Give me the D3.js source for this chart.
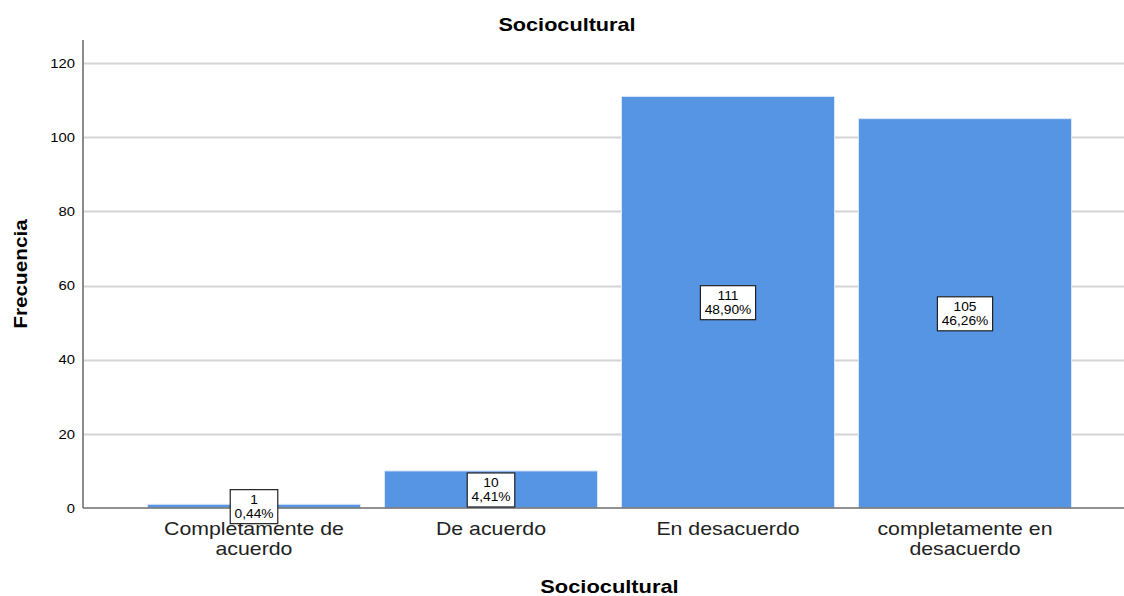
<!DOCTYPE html>
<html>
  <head>
    <meta charset="utf-8">
    <title>Sociocultural</title>
    <script src="https://d3js.org/d3.v7.min.js"></script>
    <style>
      body { margin: 0; background: #fff; font-family: Arial, "Liberation Sans", sans-serif; }
      svg text { fill: #000; font-family: Arial, "Liberation Sans", sans-serif; }
    </style>
  </head>
  <body>
    <svg id="chart" width="1124" height="596"></svg>
    <script>
      // data
      const categories = [["Completamente de", "acuerdo"], ["De acuerdo"], ["En desacuerdo"], ["completamente en", "desacuerdo"]];
      const counts = [1, 10, 111, 105];
      const percents = ["0,44%", "4,41%", "48,90%", "46,26%"];
      const yTicks = [0, 20, 40, 60, 80, 100, 120];

      const svg = d3.select("#chart");
      const plotLeft = 83, plotRight = 1124, plotTop = 40, plotBottom = 508;

      // the original renderer draws its text a bit wider than Liberation Sans
      function widen(sel, k) {
        sel.each(function() {
          const w = this.getComputedTextLength();
          d3.select(this)
            .attr("textLength", w * k)
            .attr("lengthAdjust", "spacingAndGlyphs");
        });
      }

      const x = d3.scaleBand()
        .domain(d3.range(counts.length))
        .range([135.5, 1083.5])
        .paddingInner(0.101)
        .paddingOuter(0.0505);
      const y = d3.scaleLinear()
        .domain([0, 120])
        .range([plotBottom, 63]);

      // gridlines
      svg.append("g")
        .selectAll("line")
          .data(yTicks.filter(function(d) { return d > 0; }))
        .enter().append("line")
          .attr("x1", plotLeft)
          .attr("x2", plotRight)
          .attr("y1", function(d) { return Math.round(y(d)) + 0.5; })
          .attr("y2", function(d) { return Math.round(y(d)) + 0.5; })
          .attr("stroke", "#d4d4d4")
          .attr("stroke-width", 2);

      // y axis
      const yAxis = svg.append("g")
        .attr("transform", "translate(" + plotLeft + ",0)")
        .call(d3.axisLeft(y).tickValues(yTicks).tickSize(0).tickPadding(8));
      yAxis.select(".domain").remove();
      yAxis.selectAll("text")
        .style("font-size", "13px")
        .style("font-family", "Arial, 'Liberation Sans', sans-serif")
        .call(widen, 1.14);
      svg.append("line")
        .attr("x1", plotLeft).attr("x2", plotLeft)
        .attr("y1", plotTop).attr("y2", plotBottom)
        .attr("stroke", "#8c8c8c").attr("stroke-width", 2);

      // bars
      svg.append("g")
        .selectAll("rect")
          .data(counts)
        .enter().append("rect")
          .attr("x", function(d, i) { return x(i); })
          .attr("y", function(d) { return y(d); })
          .attr("width", x.bandwidth())
          .attr("height", function(d) { return y(0) - y(d); })
          .attr("fill", "#5595e3")
          .attr("stroke", "#dce8f8")
          .attr("stroke-width", 1);

      // baseline
      svg.append("line")
        .attr("x1", plotLeft).attr("x2", plotRight)
        .attr("y1", plotBottom).attr("y2", plotBottom)
        .attr("stroke", "#6e6e6e").attr("stroke-width", 1.5);

      // category labels
      svg.append("g")
        .selectAll("text")
          .data(categories)
        .enter().append("text")
          .attr("text-anchor", "middle")
          .style("font-size", "19px")
          .style("fill", "#222")
          .each(function(d, i) {
            const t = d3.select(this);
            d.forEach(function(line, j) {
              t.append("tspan")
                .attr("x", x(i) + x.bandwidth() / 2)
                .attr("y", 535 + j * 20)
                .text(line);
            });
            t.selectAll("tspan").call(widen, 1.12);
          });

      // data labels, drawn last so the boxes sit on top
      const labels = svg.append("g")
        .selectAll("g")
          .data(counts)
        .enter().append("g")
          .attr("transform", function(d, i) {
            return "translate(" + (x(i) + x.bandwidth() / 2) + "," + y(d / 2) + ")";
          });
      labels.each(function(d, i) {
        const g = d3.select(this);
        const t = g.append("text")
          .attr("text-anchor", "middle")
          .style("font-size", "13px");
        t.append("tspan").attr("x", 0).attr("y", -2.5).text(d);
        t.append("tspan").attr("x", 0).attr("y", 12).text(percents[i]);
        t.selectAll("tspan").call(widen, 1.06);
        const w = t.node().getBBox().width + 8;
        g.insert("rect", "text")
          .attr("x", -w / 2)
          .attr("y", -16.5)
          .attr("width", w)
          .attr("height", 34)
          .attr("fill", "#fff")
          .attr("stroke", "#222")
          .attr("stroke-width", 1.2);
      });

      // titles
      svg.append("text")
        .attr("x", 567).attr("y", 31)
        .attr("text-anchor", "middle")
        .style("font-size", "19px").style("font-weight", "bold")
        .text("Sociocultural")
        .call(widen, 1.14);
      svg.append("text")
        .attr("x", 609.5).attr("y", 593)
        .attr("text-anchor", "middle")
        .style("font-size", "19px").style("font-weight", "bold")
        .text("Sociocultural")
        .call(widen, 1.15);
      svg.append("text")
        .attr("transform", "translate(27,274) rotate(-90)")
        .attr("text-anchor", "middle")
        .style("font-size", "19px").style("font-weight", "bold")
        .text("Frecuencia")
        .call(widen, 1.09);
    </script>
  </body>
</html>
